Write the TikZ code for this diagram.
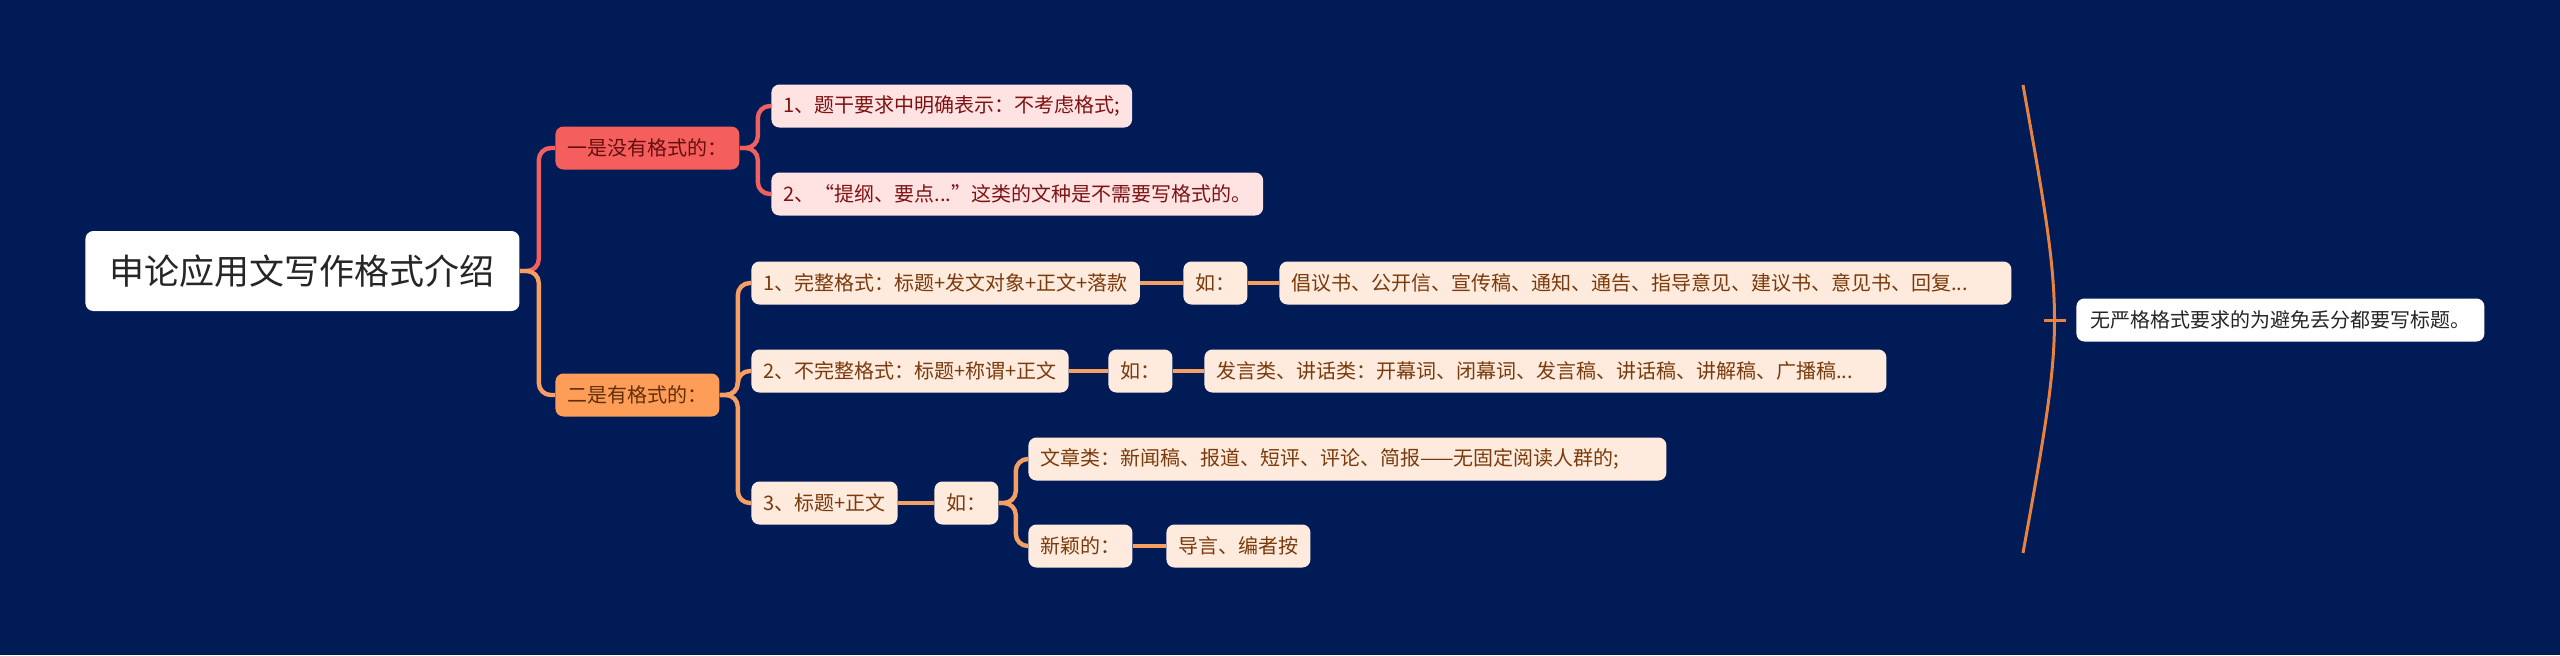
\documentclass[tikz,border=0pt]{standalone}
\usepackage{fontspec}
\setmainfont{Noto Sans CJK SC}
\definecolor{bgnavy}{HTML}{011B57}
\definecolor{roottext}{HTML}{262626}
\definecolor{branchred}{HTML}{F45F5D}
\definecolor{branchorange}{HTML}{FE9D58}
\definecolor{linkred}{HTML}{F0605E}
\definecolor{linkorange}{HTML}{F5A062}
\definecolor{leafred}{HTML}{FFE2E2}
\definecolor{leaforange}{HTML}{FFEBDD}
\definecolor{textred}{HTML}{7E1212}
\definecolor{textbrown}{HTML}{7A3A0C}
\definecolor{bracecolor}{HTML}{E8823E}
\begin{document}
\begin{tikzpicture}[x=0.5pt, y=-0.5pt,
    every node/.style={anchor=west, rounded corners=4pt, inner xsep=6pt, inner ysep=0pt,
                       minimum height=21.5pt, font=\fontsize{10}{12}\selectfont},
    rootbox/.style={fill=white, text=roottext, minimum height=40pt, minimum width=217pt,
                    inner xsep=0pt, font=\fontsize{17.5}{21}\selectfont},
    redbranch/.style={fill=branchred, text=textred!80!black},
    orangebranch/.style={fill=branchorange, text=textbrown!80!black},
    redleaf/.style={fill=leafred, text=textred},
    orangeleaf/.style={fill=leaforange, text=textbrown},
    longleaf/.style={orangeleaf, align=left, text width=#1},
    notebox/.style={fill=white, text=roottext, inner xsep=7pt},
    redlink/.style={draw=linkred, line width=2.2pt, rounded corners=6pt},
    orangelink/.style={draw=linkorange, line width=2.2pt, rounded corners=6pt},
    bracelink/.style={draw=bracecolor, line width=1.5pt}]

    % Background
    \fill[bgnavy] (0,0) rectangle (2560,655);

    % Central topic
    \node[rootbox] (root) at (85,271) {申论应用文写作格式介绍};

    % Main branches
    \node[redbranch] (b1) at (555,148) {一是没有格式的：};
    \node[orangebranch] (b2) at (555,395) {二是有格式的：};

    % No format
    \node[redleaf] (r1) at (771,106) {1、题干要求中明确表示：不考虑格式;};
    \node[redleaf] (r2) at (771,194) {2、“提纲、要点...”这类的文种是不需要写格式的。};

    % With format
    \node[orangeleaf] (o1) at (751,283) {1、完整格式：标题+发文对象+正文+落款};
    \node[orangeleaf] (o1a) at (1183,283) {如：};
    \node[longleaf=354pt] (o1b) at (1279,283) {倡议书、公开信、宣传稿、通知、通告、指导意见、建议书、意见书、回复...};
    \node[orangeleaf] (o2) at (751,371) {2、不完整格式：标题+称谓+正文};
    \node[orangeleaf] (o2a) at (1108,371) {如：};
    \node[longleaf=329pt] (o2b) at (1204,371) {发言类、讲话类：开幕词、闭幕词、发言稿、讲话稿、讲解稿、广播稿...};
    \node[orangeleaf] (o3) at (751,503) {3、标题+正文};
    \node[orangeleaf] (o3a) at (934,503) {如：};
    \node[longleaf=307pt] (o3b) at (1028,459) {文章类：新闻稿、报道、短评、评论、简报——无固定阅读人群的;};
    \node[orangeleaf] (o3c) at (1028,546) {新颖的：};
    \node[orangeleaf] (o3d) at (1166,546) {导言、编者按};

    % Summary
    \node[notebox] (note) at (2076,320) {无严格格式要求的为避免丢分都要写标题。};

    % Links from the central topic
    \draw[redlink] (root.east) -- ++(19,0) |- (b1.west);
    \draw[orangelink] (root.east) -- ++(19,0) |- (b2.west);

    % Red links
    \draw[redlink] (b1.east) -- ++(18,0) |- (r1.west);
    \draw[redlink] (b1.east) -- ++(18,0) |- (r2.west);

    % Orange links
    \draw[orangelink] (b2.east) -- ++(18,0) |- (o1.west);
    \draw[orangelink] (b2.east) -- ++(18,0) |- (o2.west);
    \draw[orangelink] (b2.east) -- ++(18,0) |- (o3.west);
    \draw[orangelink] (o1.east) -- (o1a.west);
    \draw[orangelink] (o1a.east) -- (o1b.west);
    \draw[orangelink] (o2.east) -- (o2a.west);
    \draw[orangelink] (o2a.east) -- (o2b.west);
    \draw[orangelink] (o3.east) -- (o3a.west);
    \draw[orangelink] (o3a.east) -- ++(17,0) |- (o3b.west);
    \draw[orangelink] (o3a.east) -- ++(17,0) |- (o3c.west);
    \draw[orangelink] (o3c.east) -- (o3d.west);

    % Summary brace
    \coordinate (bracetop) at (2023,85);
    \coordinate (bracebot) at (2023,553);
    \coordinate (bracemid) at (2044,320);
    \draw[bracelink] (bracetop) .. controls (2065,320) .. (bracebot);
    \draw[bracelink] (bracemid) -- ([xshift=-5pt]note.west);
\end{tikzpicture}
\end{document}
